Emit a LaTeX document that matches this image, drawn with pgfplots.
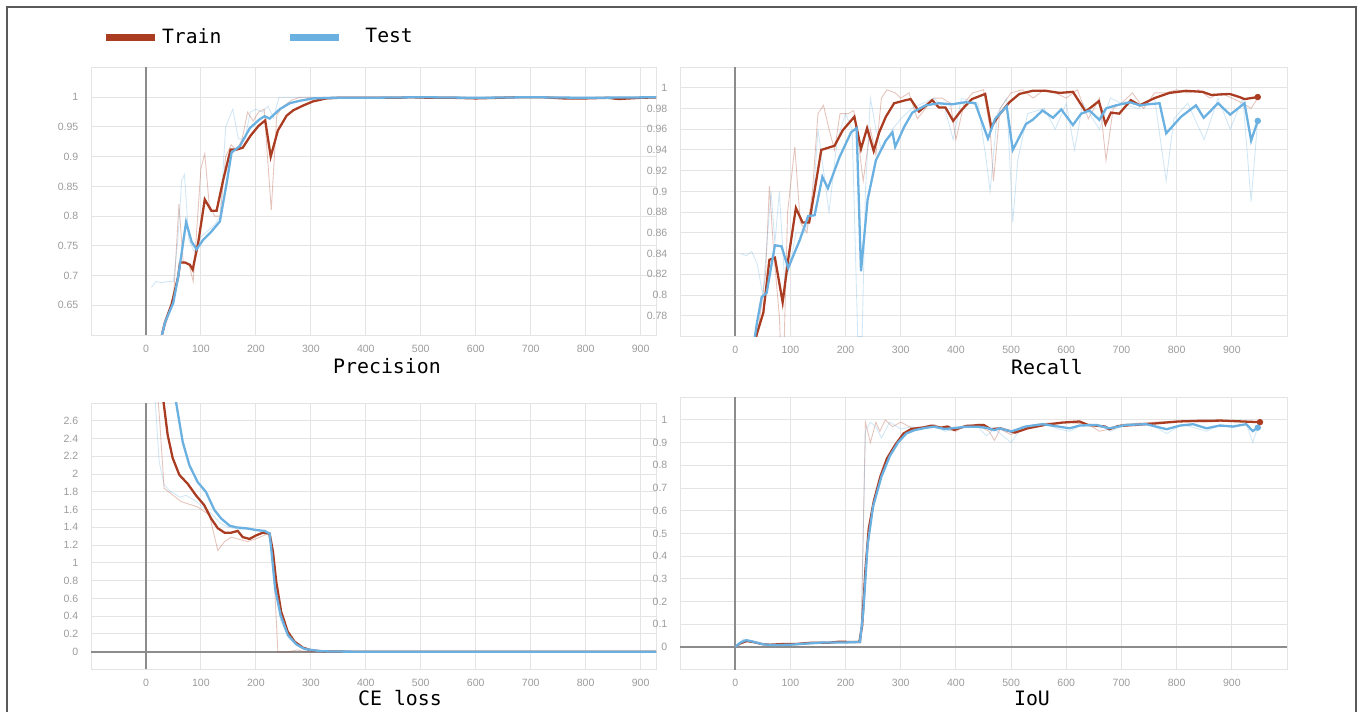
\documentclass[border=0pt]{standalone}
\usepackage{fontspec}
\usepackage{pgfplots}
\pgfplotsset{compat=1.18}

\newfontfamily\monof{DejaVu Sans Mono}
\newfontfamily\tickf{Liberation Sans}

\definecolor{trainc}{RGB}{170,60,34}
\definecolor{testc}{RGB}{106,176,224}
\definecolor{gridc}{RGB}{228,228,228}
\definecolor{zeroc}{RGB}{140,140,140}
\definecolor{tickc}{RGB}{155,155,155}
\definecolor{framec}{RGB}{90,90,90}

\pgfplotsset{
  panel/.style={
    scale only axis,
    axis line style={draw=gridc},
    grid=major,
    grid style={draw=gridc, line width=0.55pt},
    major tick length=0pt,
    xmin=-100,
    xtick={100,200,300,400,500,600,700,800,900},
    extra x ticks={0},
    extra x tick style={grid style={draw=zeroc, line width=1pt}},
    /pgf/number format/assume math mode=true,
    tick label style={font=\tickf\fontsize{6}{7}\selectfont, text=tickc},
    xticklabel style={yshift=-0.7mm},
    yticklabel style={xshift=-1.3mm},
  },
  raw/.style={line width=0.5pt, opacity=0.3},
  smooth/.style={line width=1.3pt},
}

\begin{document}
\begin{tikzpicture}
\useasboundingbox (0,0) rectangle (272mm,142.4mm);
\draw[framec, line width=0.3mm] (1.4mm,-2mm) -- (1.4mm,141mm) -- (271.2mm,141mm) -- (271.2mm,-2mm);

% ---------------- Precision ----------------
\begin{axis}[panel,
  at={(18.2mm,75.4mm)}, anchor=south west,
  width=113mm, height=53.5mm,
  xmax=928, ymin=0.6, ymax=1.05,
  ytick={0.65,0.7,0.75,0.8,0.85,0.9,0.95,1},
  legend columns=2,
  legend style={draw=none, fill=none, at={(axis description cs:0.0106,1.114)}, anchor=west,
    font=\monof\fontsize{11.2}{13}\selectfont,
    /tikz/every even column/.append style={column sep=12.4mm}},
  legend image code/.code={\draw[#1, line width=1.4mm] (0mm,0mm) -- (9.8mm,0mm);},
]
\addplot[raw, trainc, forget plot] coordinates {
(10,0.55)(30,0.60)(40,0.63)(50,0.66)(60,0.82)(68,0.72)(78,0.72)(86,0.69)(100,0.88)(107,0.905)
(115,0.82)(125,0.80)(135,0.80)(145,0.90)(155,0.92)(165,0.91)(175,0.93)(185,0.975)(195,0.96)
(205,0.975)(215,0.98)(228,0.81)(238,0.97)(250,0.985)(265,0.995)(280,1.0)(300,1.0)(940,1.0)};
\addplot[raw, testc, forget plot] coordinates {
(10,0.68)(18,0.69)(28,0.688)(40,0.69)(50,0.69)(58,0.76)(65,0.86)(70,0.87)(78,0.76)(88,0.74)
(100,0.765)(112,0.775)(125,0.785)(135,0.80)(145,0.95)(158,0.98)(168,0.93)(180,0.93)(190,0.975)
(200,0.98)(212,0.975)(222,0.985)(232,0.965)(242,1.0)(260,1.0)(940,1.0)};
\addplot[smooth, trainc] coordinates {
(25,0.585)(34.5,0.621)(46.7,0.652)(58.8,0.699)(62,0.722)(71,0.722)(80,0.718)(85,0.710)(95,0.755)
(107,0.828)(119,0.809)(128.5,0.809)(140.6,0.861)(154,0.912)(165,0.912)(176,0.915)(190,0.935)
(205,0.952)(217,0.961)(227,0.900)(240,0.944)(256,0.969)(268,0.978)(286,0.986)(304,0.993)
(328,0.998)(350,0.999)(380,0.999)(420,0.999)(460,0.999)(480,1.0)(520,0.999)(560,0.999)
(600,0.998)(640,0.999)(680,1.0)(720,1.0)(760,0.998)(800,0.998)(840,0.999)(860,0.997)(900,0.999)(940,1.0)};
\addlegendentry{Train}
\addplot[smooth, testc] coordinates {
(25,0.585)(35,0.622)(49.7,0.654)(58.8,0.699)(66,0.745)(73,0.790)(83,0.757)(92,0.744)(104,0.760)
(119,0.774)(134.5,0.791)(146.7,0.855)(155.8,0.907)(171,0.918)(189,0.948)(207,0.963)(216,0.968)
(225,0.964)(243.6,0.980)(262,0.990)(280,0.994)(304,0.998)(340,0.999)(400,0.999)(500,1.0)
(600,0.999)(700,1.0)(800,0.999)(940,1.0)};
\addlegendentry{\hspace{3.8mm}Test}
\end{axis}

% ---------------- Recall ----------------
\begin{axis}[panel,
  at={(136mm,75.1mm)}, anchor=south west,
  width=121.4mm, height=53.9mm,
  xmax=1000, ymin=0.76, ymax=1.02,
  ytick={0.78,0.8,0.82,0.84,0.86,0.88,0.9,0.92,0.94,0.96,0.98,1},
]
\addplot[raw, trainc] coordinates {
(20,0.70)(40,0.76)(55,0.82)(62,0.905)(70,0.84)(80,0.78)(86,0.70)(95,0.88)(108,0.943)(118,0.87)
(130,0.86)(140,0.90)(150,0.975)(160,0.983)(170,0.96)(180,0.94)(190,0.975)(205,0.975)(215,0.978)
(225,0.94)(232,0.91)(245,0.96)(255,0.935)(265,0.99)(275,0.998)(290,0.995)(300,0.99)(315,0.995)
(330,0.97)(345,0.98)(360,0.99)(375,0.99)(390,0.985)(400,0.95)(415,0.985)(430,0.995)(450,0.998)
(462,0.96)(468,0.91)(480,0.98)(500,0.995)(520,0.998)(540,0.99)(560,0.998)(580,0.995)(600,0.99)
(620,0.998)(640,0.97)(660,0.99)(672,0.93)(685,0.98)(700,0.985)(720,0.995)(740,0.98)(760,0.995)
(780,0.995)(800,0.998)(820,0.995)(840,0.998)(860,0.99)(880,0.995)(900,0.99)(920,0.985)(935,0.98)(947,0.99)};
\addplot[raw, testc] coordinates {
(10,0.84)(20,0.838)(30,0.842)(40,0.83)(50,0.80)(65,0.90)(72,0.85)(80,0.90)(90,0.81)(100,0.83)
(110,0.86)(125,0.86)(140,0.88)(150,0.96)(160,0.92)(170,0.88)(185,0.95)(200,0.975)(212,0.96)
(222,0.76)(230,0.76)(236,0.90)(245,0.99)(255,0.96)(265,0.94)(285,0.96)(300,0.97)(320,0.98)
(340,0.985)(360,0.99)(380,0.98)(395,0.95)(410,0.99)(440,0.985)(455,0.93)(462,0.90)(475,0.975)
(492,0.99)(503,0.87)(512,0.93)(530,0.975)(560,0.98)(580,0.96)(600,0.985)(615,0.94)(630,0.985)
(660,0.96)(680,0.99)(700,0.985)(730,0.98)(760,0.99)(781,0.91)(795,0.97)(820,0.985)(850,0.95)
(875,0.99)(897,0.96)(920,0.99)(935,0.89)(947,0.97)};
\addplot[smooth, trainc] coordinates {
(33,0.75)(39,0.762)(51,0.783)(62,0.834)(72,0.836)(86,0.793)(96,0.834)(110,0.884)(122,0.870)
(134,0.870)(144,0.901)(156,0.940)(168,0.942)(180,0.944)(195,0.959)(216,0.972)(228,0.941)
(239,0.961)(251,0.939)(261,0.957)(273,0.972)(288,0.985)(309,0.988)(318,0.989)(333,0.977)
(357,0.988)(369,0.981)(381,0.981)(395,0.968)(411,0.979)(429,0.989)(453,0.994)(464,0.962)
(477,0.973)(497,0.986)(515,0.994)(539,0.997)(563,0.997)(588,0.995)(612,0.996)(635,0.977)
(659,0.987)(671,0.965)(681,0.976)(696,0.975)(717,0.988)(733,0.983)(760,0.990)(787,0.995)
(817,0.997)(847,0.996)(863,0.993)(896,0.994)(914,0.991)(923,0.989)(947,0.991)};
\addplot[smooth, testc] coordinates {
(33,0.75)(40,0.775)(48,0.798)(57,0.802)(72,0.848)(84,0.847)(96,0.826)(117,0.853)(132,0.876)
(144,0.877)(158,0.914)(168,0.903)(189,0.933)(210,0.957)(220,0.961)(228,0.823)(240,0.892)
(255,0.930)(273,0.949)(285,0.957)(290,0.943)(306,0.962)(321,0.976)(345,0.983)(369,0.985)
(393,0.984)(417,0.986)(435,0.985)(458,0.951)(471,0.970)(492,0.982)(503,0.940)(527,0.965)
(539,0.969)(557,0.978)(576,0.971)(591,0.979)(612,0.964)(627,0.975)(642,0.978)(660,0.969)
(672,0.980)(690,0.983)(715,0.986)(733,0.983)(748,0.984)(769,0.985)(781,0.956)(808,0.972)
(835,0.983)(849,0.971)(875,0.985)(897,0.974)(923,0.985)(935,0.949)(947,0.968)};
\addplot[only marks, mark=*, mark size=1.6pt, trainc] coordinates {(947,0.991)};
\addplot[only marks, mark=*, mark size=1.6pt, testc] coordinates {(947,0.968)};
\end{axis}

% ---------------- CE loss ----------------
\begin{axis}[panel,
  at={(18.2mm,8.5mm)}, anchor=south west,
  width=113mm, height=53.3mm,
  xmax=928, ymin=-0.2, ymax=2.8,
  ytick={0.2,0.4,0.6,0.8,1,1.2,1.4,1.6,1.8,2,2.2,2.4,2.6},
  extra y ticks={0},
  extra y tick style={grid style={draw=zeroc, line width=1pt}},
]
\addplot[raw, testc] coordinates {
(15,3.0)(24,2.14)(33,1.88)(45,1.80)(52,1.78)(61,1.74)(73,1.76)(90,1.70)(105,1.62)(120,1.55)
(135,1.45)(150,1.40)(170,1.38)(190,1.38)(210,1.35)(225,1.33)(235,0.7)(245,0.35)(260,0.15)
(280,0.05)(300,0.01)(340,0)(940,0)};
\addplot[raw, trainc] coordinates {
(20,3.0)(25,2.6)(33,1.84)(64,1.69)(94,1.63)(115.5,1.54)(130.7,1.14)(143,1.24)(155,1.29)
(173,1.26)(185,1.24)(204,1.28)(222,1.33)(231,1.1)(240,0.0)(260,0.0)(275,0.02)(290,0.0)(940,0)};
\addplot[smooth, trainc] coordinates {
(28,2.95)(32,2.81)(39.5,2.44)(48.6,2.18)(60.8,1.99)(76,1.89)(91,1.76)(106,1.65)(118.5,1.50)
(130.7,1.39)(143,1.34)(155,1.34)(167,1.36)(176,1.29)(188.4,1.27)(200.6,1.31)(212.8,1.34)
(225,1.33)(231,1.13)(237,0.79)(246,0.45)(258,0.225)(270.5,0.113)(285.7,0.045)(301,0.015)
(325,0.003)(360,0.001)(400,0)(940,0)};
\addplot[smooth, testc] coordinates {
(52,2.95)(54.7,2.81)(66.9,2.36)(79,2.10)(94,1.91)(109,1.80)(124.6,1.595)(136.8,1.50)(152,1.42)
(164,1.40)(182,1.39)(200.6,1.37)(215.8,1.36)(225,1.33)(229,1.09)(235,0.71)(245,0.41)(258,0.19)
(273.6,0.083)(289,0.03)(319,0.005)(360,0.001)(940,0)};
\end{axis}

% ---------------- IoU ----------------
\begin{axis}[panel,
  at={(136mm,8.46mm)}, anchor=south west,
  width=121.4mm, height=54.5mm,
  xmax=1000, ymin=-0.1, ymax=1.1,
  ytick={0.1,0.2,0.3,0.4,0.5,0.6,0.7,0.8,0.9,1},
  extra y ticks={0},
  extra y tick style={grid style={draw=zeroc, line width=1pt}},
]
\addplot[raw, trainc] coordinates {
(0,0)(15,0.03)(30,0.02)(60,0.01)(100,0.015)(150,0.02)(200,0.02)(228,0.02)(236,0.99)(245,0.90)
(255,0.99)(262,0.95)(272,1.0)(285,0.97)(300,0.99)(320,0.965)(340,0.97)(360,0.98)(380,0.96)
(400,0.95)(420,0.98)(440,0.975)(460,0.95)(470,0.91)(480,0.96)(500,0.935)(520,0.97)(560,0.985)
(600,0.99)(640,0.98)(660,0.95)(680,0.96)(700,0.98)(760,0.99)(800,0.995)(850,0.99)(900,0.995)(950,0.99)};
\addplot[raw, testc] coordinates {
(0,0)(15,0.035)(30,0.02)(60,0.008)(100,0.01)(150,0.02)(200,0.02)(228,0.022)(236,0.95)(245,0.99)
(255,0.97)(265,0.92)(280,0.99)(300,0.96)(320,0.97)(340,0.96)(360,0.975)(380,0.95)(400,0.96)
(420,0.975)(440,0.97)(455,0.93)(470,0.96)(500,0.90)(520,0.97)(560,0.985)(585,0.96)(606,0.95)
(630,0.98)(660,0.975)(680,0.95)(710,0.98)(750,0.985)(782,0.94)(810,0.98)(854,0.95)(880,0.98)
(902,0.965)(926,0.985)(938,0.9)(947,0.97)};
\addplot[smooth, trainc] coordinates {
(0,0)(9,0.016)(21,0.026)(33,0.022)(48,0.013)(63,0.010)(87,0.013)(110,0.013)(140,0.019)(170,0.019)
(188,0.023)(212,0.022)(225,0.022)(230,0.093)(236,0.34)(242,0.52)(251,0.64)(263,0.75)(275,0.83)
(290,0.89)(305,0.94)(319,0.96)(340,0.966)(355,0.974)(373,0.966)(385,0.971)(397,0.956)(415,0.971)
(439,0.977)(451,0.977)(463,0.959)(480,0.963)(507,0.944)(530,0.963)(561,0.978)(592,0.988)
(624,0.993)(639,0.978)(670,0.971)(678,0.959)(694,0.973)(725,0.978)(764,0.985)(803,0.993)
(842,0.996)(881,0.997)(920,0.993)(951,0.990)};
\addplot[smooth, testc] coordinates {
(0,0)(10,0.02)(20,0.03)(30,0.025)(50,0.012)(70,0.008)(100,0.01)(130,0.015)(160,0.02)(200,0.02)
(226,0.022)(232,0.15)(240,0.45)(250,0.62)(265,0.75)(280,0.84)(295,0.90)(310,0.94)(325,0.955)
(345,0.965)(360,0.97)(380,0.96)(400,0.965)(420,0.97)(440,0.97)(455,0.965)(470,0.955)(479,0.963)
(500,0.949)(527,0.971)(557,0.981)(585,0.971)(606,0.963)(624,0.975)(654,0.978)(678,0.963)
(709,0.978)(745,0.981)(782,0.959)(806,0.975)(830,0.981)(854,0.963)(878,0.975)(902,0.971)
(926,0.981)(938,0.951)(947,0.966)};
\addplot[only marks, mark=*, mark size=1.6pt, trainc] coordinates {(951,0.990)};
\addplot[only marks, mark=*, mark size=1.6pt, testc] coordinates {(947,0.966)};
\end{axis}

% panel titles
\node[font=\monof\fontsize{11.3}{13}\selectfont] at (77.4mm,69.2mm) {Precision};
\node[font=\monof\fontsize{11.3}{13}\selectfont] at (209.4mm,69.0mm) {Recall};
\node[font=\monof\fontsize{11.3}{13}\selectfont] at (80mm,2.8mm) {CE loss};
\node[font=\monof\fontsize{11.3}{13}\selectfont] at (206.4mm,2.7mm) {IoU};
\end{tikzpicture}
\end{document}
